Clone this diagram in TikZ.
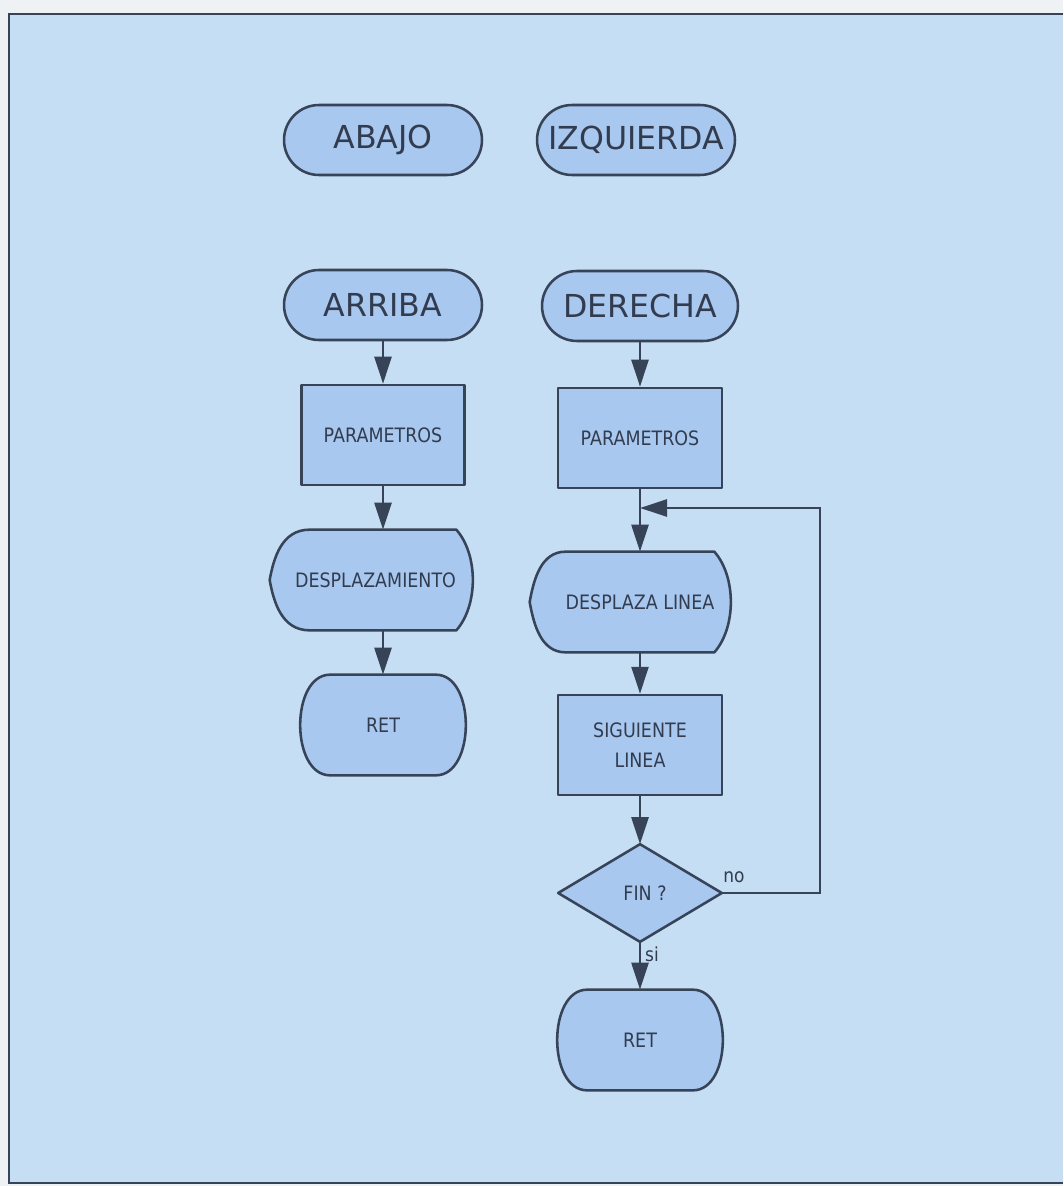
\documentclass[tikz,border=0pt]{standalone}
\usepackage{fontspec}
\setmainfont{DejaVu Sans}
\newfontfamily\condf[FakeStretch=0.88]{DejaVu Sans}
\usetikzlibrary{arrows.meta,calc}
\definecolor{bgc}{RGB}{197,222,244}
\definecolor{fillc}{RGB}{168,200,240}
\definecolor{linec}{RGB}{55,68,88}
\definecolor{txtc}{RGB}{50,60,78}
\definecolor{paper}{RGB}{238,242,245}
\pgfdeclarelayer{back}
\pgfdeclarelayer{shapes}
\pgfsetlayers{back,shapes,main}
\tikzset{
  shp/.style={draw=linec, fill=fillc, line width=1.45pt, line join=round},
  term/.style={shp, rounded corners=0.7cm, minimum width=3.96cm, minimum height=1.4cm,
    inner sep=0pt, text=txtc, font=\fontsize{18}{20}\selectfont},
  procbox/.style={shp, minimum width=3.28cm, minimum height=2cm, inner sep=0pt,
    text=txtc, align=center, font=\condf\fontsize{11.3}{17}\selectfont},
  ghost/.style={inner sep=0pt, text=txtc, align=center, font=\condf\fontsize{11.3}{17}\selectfont},
  lbl/.style={inner sep=0pt, text=txtc, font=\condf\fontsize{11}{13}\selectfont},
  arr/.style={draw=linec, line width=1.45pt, -{Triangle[length=0.54cm,width=0.34cm]}}
}
\begin{document}
\begin{tikzpicture}[x=0.02cm,y=-0.02cm]
\useasboundingbox (0,0) rectangle (1063,1186);
\begin{pgfonlayer}{back}
  \fill[paper] (0,0) rectangle (1063,1186);
  \fill[bgc] (9,14) rectangle (1063,1183);
  \draw[linec, line width=1.6pt] (1063,14) -- (9,14) -- (9,1183) -- (1063,1183);
\end{pgfonlayer}

% left column
\node[term] (abajo) at (383,140) {ABAJO};
\node[term] (izq) at (636,140) {IZQUIERDA};
\node[term] (arriba) at (383,305) {ARRIBA};
\node[term, minimum width=3.92cm] (derecha) at (640,306) {DERECHA};
\node[procbox, minimum width=3.26cm] (p1) at (383,435) {PARAMETROS};
\node[ghost, minimum width=2.92cm, minimum height=2cm] (desp) at (383,580) {\makebox[0pt]{\kern-0.3cm DESPLAZAMIENTO}};
\node[ghost, minimum width=3.3cm, minimum height=2cm] (ret1) at (383,725) {RET};

% right column
\node[procbox] (p2) at (640,438) {PARAMETROS};
\node[ghost, minimum width=2.96cm, minimum height=2cm] (dl) at (640,602) {\makebox[0pt]{DESPLAZA LINEA}};
\node[procbox] (sig) at (640,745) {SIGUIENTE\\LINEA};
\node[ghost, minimum width=3.26cm, minimum height=1.94cm] (fin) at (640,893) {\kern0.2cm FIN ?};
\node[ghost, minimum width=3.3cm, minimum height=2cm] (ret2) at (640,1040) {RET};

\node[lbl] (no) at (734,877) {no};
\node[lbl] (si) at (652,954) {si};

\begin{pgfonlayer}{shapes}
  % display shapes
  \draw[shp] (desp.north west) -- (desp.north east)
     .. controls +(22,25) and +(22,-25) .. (desp.south east)
     -- (desp.south west)
     .. controls +(-28,0) and +(4,22) .. ($(desp.west)+(-40,0)$)
     .. controls +(4,-22) and +(-28,0) .. (desp.north west) -- cycle;
  \draw[shp] (dl.north west) -- (dl.north east)
     .. controls +(22,25) and +(22,-25) .. (dl.south east)
     -- (dl.south west)
     .. controls +(-25,0) and +(4,22) .. ($(dl.west)+(-36,0)$)
     .. controls +(4,-22) and +(-25,0) .. (dl.north west) -- cycle;
  % terminal RET shapes
  \draw[shp] ($(ret1.north west)+(30,0)$) -- ($(ret1.north east)+(-30,0)$)
     .. controls +(40,0) and +(40,0) .. ($(ret1.south east)+(-30,0)$)
     -- ($(ret1.south west)+(30,0)$)
     .. controls +(-40,0) and +(-40,0) .. ($(ret1.north west)+(30,0)$) -- cycle;
  \draw[shp] ($(ret2.north west)+(30,0)$) -- ($(ret2.north east)+(-30,0)$)
     .. controls +(40,0) and +(40,0) .. ($(ret2.south east)+(-30,0)$)
     -- ($(ret2.south west)+(30,0)$)
     .. controls +(-40,0) and +(-40,0) .. ($(ret2.north west)+(30,0)$) -- cycle;
  % decision
  \draw[shp] (fin.north) -- (fin.east) -- (fin.south) -- (fin.west) -- cycle;
\end{pgfonlayer}

% connectors
\draw[arr] (arriba) -- (p1);
\draw[arr] (p1) -- (desp);
\draw[arr] (desp) -- (ret1);
\draw[arr] (derecha) -- (p2);
\draw[arr] (p2) -- (dl);
\draw[arr] (dl) -- (sig);
\draw[arr] (sig) -- (fin);
\draw[arr] (fin) -- (ret2);
\coordinate (lr) at (820,508);
\coordinate (lj) at (640,508);
\draw[arr] (fin.east) -| (lr) -- (lj);
\end{tikzpicture}
\end{document}
